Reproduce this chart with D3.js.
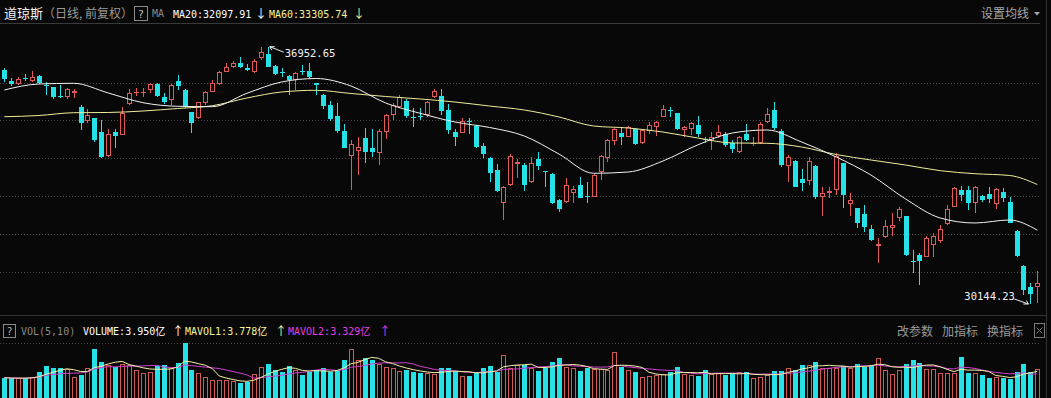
<!DOCTYPE html>
<html>
<head>
<meta charset="utf-8">
<script src="https://d3js.org/d3.v7.min.js"></script>
<style>
body { margin: 0; background: #080808; overflow: hidden; }
</style>
</head>
<body>
<script>
var width = 1051;
var height = 398;
var bg = "#080808";
var red = "#e05a58";
var cyan = "#26e2e6";
var mono = "'DejaVu Sans Mono', 'Noto Sans CJK SC', monospace";
var cjk = "'Noto Sans CJK SC', sans-serif";

//*********** Daily candles ******************************************
var opens = [36336,36052,35957,36132,36052,36177,35948,35878,35640,35613,35719,35365,34994,35057,34703,34069,34703,34616,35428,35719,
  35715,35807,35957,35613,35542,36045,35807,35217,35057,35455,35761,35965,36291,36407,36513,36389,36291,36645,36759,36442,
  36275,36177,36071,36320,36310,35984,35675,35410,35119,34722,34069,34192,34529,34281,34132,34687,35145,35365,35515,35105,
  35125,35145,35613,35648,35277,34703,34677,34990,34862,34325,34015,33690,32825,33293,33848,33822,33380,33973,33664,33584,
  32896,32852,33090,33293,32990,32984,33645,34000,34465,34677,34571,34767,34396,34730,34820,35100,35265,35190,34748,34775,
  34881,34510,34465,34589,34642,34396,34158,34634,34390,34396,34952,35277,34730,33796,33936,33452,33407,33796,32967,33090,
  33161,33867,32782,32676,32525,32129,31687,31925,32147,32412,32473,31290,31441,31396,31705,31811,32253,32719,33161,33161,
  32809,33002,33055,32790,33116,32852,32084,31150,30602,30585];
var highs = [36381,36116,36142,36230,36317,36196,36011,35894,35939,35852,35825,35410,35296,35075,35013,34767,34780,35365,35825,35852,
  35852,36000,35984,35719,35957,36204,35825,35233,35497,35788,36071,36317,36513,36582,36672,36495,36619,36937,36952.65,36469,
  36381,36204,36291,36468,36513,36000,35693,35515,35471,34899,34484,34571,34809,34767,34767,35172,35455,35675,35561,35322,
  35322,35524,35825,35825,35428,34780,35075,35057,34881,34396,34042,33848,33266,34105,33973,33866,34042,34174,33664,33602,
  32914,33470,33266,33513,33380,33584,34087,34502,34794,34820,34854,34794,34767,34968,34994,35410,35365,35206,34854,34968,
  35119,34571,34703,34881,34703,34484,34589,34899,34571,34968,35322,35481,34767,34087,33954,33708,34042,33822,33249,33249,
  34132,33883,33073,32692,32764,32235,31883,32367,32544,32703,32481,31573,31485,31943,32031,32235,32764,33232,33266,33266,
  33266,33028,33232,33206,33206,32967,32102,31176,30708,31025];
var lows = [36027,35920,35939,36052,36027,35957,35675,35569,35603,35561,35587,34748,34926,34439,34000,34042,34281,34610,35410,35648,
  35629,35719,35629,35436,35410,35807,35322,34677,35039,35410,35746,35939,36275,36381,36381,36310,36248,36600,36407,36204,
  36142,35675,35807,36204,36090,35675,35296,34986,34677,34264,33161,33557,33883,34026,33822,34502,35013,35322,35057,34820,
  35013,35100,35587,35145,34634,34325,34661,34642,34264,34000,33380,33116,32367,33276,33470,33142,33354,33690,33248,32790,
  32587,32809,32825,32940,32825,32967,33425,33910,34351,34351,34555,34351,34378,34642,34589,35084,35100,34748,34571,34616,
  34571,34412,34219,34529,34306,34132,34148,34457,34325,34378,34926,34748,33777,33380,33232,33142,33293,32914,32473,32941,
  33028,32692,32473,32147,32057,31820,31237,31898,31943,32340,31423,30972,30646,31379,31396,31767,32235,32703,32878,32631,
  32544,32852,32825,32650,32852,32280,31396,30382,30144.23,30179];
var closes = [36090,35957,36090,36116,36142,35984,35931,35613,35625,35825,35788,34926,35145,34484,34042,34634,34596,35206,35719,35761,
  35765,35965,35648,35497,35939,35920,35365,34941,35481,35761,35984,36291,36407,36513,36424,36344,36582,36804,36424,36230,
  36260,36071,36264,36305,36142,35931,35383,35031,34730,34281,34370,34306,34174,34174,34722,35145,35410,35629,35119,35090,
  35110,35481,35780,35251,34748,34571,34986,34975,34306,34105,33618,33134,33249,34060,33893,33293,33883,33796,33650,32809,
  32650,33293,33178,32957,32975,33557,34060,34484,34767,34571,34820,34378,34748,34881,34952,35304,35250,34767,34820,34926,
  34642,34495,34571,34703,34351,34238,34555,34484,34405,34899,35172,34793,33822,34042,33248,33338,33928,32967,33073,33134,
  34060,33028,32896,32280,32190,31838,31732,32208,32235,32650,31441,31275,31290,31899,31943,32129,32650,33206,33028,32825,
  33249,32896,32915,33178,32941,32296,31414,30515,30401,30692];
// volume, 亿
var volumes = [3.51,3.48,3.48,3.48,3.57,3.79,4.12,4.00,4.00,3.97,3.57,3.65,4.00,5.01,4.32,4.18,4.09,4.21,4.18,3.92,
  3.74,3.79,4.12,4.18,4.00,4.26,5.31,3.92,3.74,3.57,3.39,3.39,3.39,3.34,3.22,3.27,3.69,4.09,4.21,3.92,
  3.83,4.12,3.92,3.65,3.79,3.92,4.04,3.83,3.86,4.44,5.01,4.44,4.52,4.44,4.21,4.09,4.00,3.86,3.92,3.79,
  3.74,3.74,3.69,4.00,4.00,3.86,3.62,3.62,3.74,4.00,4.12,3.83,4.70,4.04,4.18,4.18,4.00,3.86,4.00,4.35,
  4.56,4.09,4.00,3.86,4.00,3.97,3.97,3.92,4.87,4.09,3.92,3.79,3.57,3.60,3.65,3.69,3.79,4.09,3.69,3.65,
  3.62,3.92,3.69,3.74,3.65,3.69,3.79,3.83,3.48,3.57,3.65,3.86,3.86,4.00,3.92,4.18,4.18,4.35,4.04,4.04,
  4.04,4.14,4.04,4.21,4.09,4.18,4.56,3.92,3.69,3.92,4.21,4.44,4.30,3.97,3.97,3.74,3.74,3.74,4.58,3.74,
  3.74,3.65,3.48,3.53,3.51,3.43,3.83,4.23,3.79,3.95];

//*********** Moving averages (every 5th day) **************************************
var maDays = [0,5,10,15,20,25,30,35,40,45,50,55,60,65,70,75,80,85,90,95,100,105,110,115,120,125,130,135,140,145,149];
var ma20 = [35807,35966,35984,35728,35471,35376,35365,35720,36019,36111,35913,35463,35190,34960,34815,34590,34113,33603,33637,33928,
  34352,34669,34749,34431,34034,33558,32923,32420,32288,32367,32097.91];
var ma60 = [35100,35132,35206,35212,35251,35317,35391,35595,35754,35799,35714,35635,35569,35489,35383,35278,35093,34854,34801,34695,
  34537,34405,34397,34299,34100,33955,33822,33672,33592,33545,33305.74];

var priceTicks = [31000, 32000, 33000, 34000, 35000, 36000];
var highMark = 36952.65, lowMark = 30144.23;

var svg = d3.select("body").append("svg")
    .attr("width", width)
    .attr("height", height)
    .style("display", "block")
    .style("background", bg);

var x = d3.scaleLinear().domain([0, opens.length - 1]).range([4.3, 1037.3]);
var y = d3.scaleLinear().domain([lowMark, highMark]).range([304, 46.7]);
var yVol = d3.scaleLinear().domain([0, 5.5]).range([445, 339.6]);

//*********************** Frame and grid ********************
svg.append("line")
    .attr("x1", 0).attr("x2", 1040).attr("y1", 23.5).attr("y2", 23.5)
    .attr("stroke", "#3a3a3a");
svg.append("line")
    .attr("x1", 1046.5).attr("x2", 1046.5).attr("y1", 0).attr("y2", height)
    .attr("stroke", "#333");
svg.append("line")
    .attr("x1", 0).attr("x2", 1046).attr("y1", 315.5).attr("y2", 315.5)
    .attr("stroke", "#333");

svg.append("g").selectAll("line").data(priceTicks).enter().append("line")
    .attr("x1", 0).attr("x2", 1040)
    .attr("y1", function(d){ return Math.round(y(d)) + 0.5; })
    .attr("y2", function(d){ return Math.round(y(d)) + 0.5; })
    .attr("stroke", "#4a4a4a")
    .attr("stroke-dasharray", "1,2");
svg.append("line")
    .attr("x1", 0).attr("x2", 1040).attr("y1", 343.5).attr("y2", 343.5)
    .attr("stroke", "#4a4a4a")
    .attr("stroke-dasharray", "1,2");

//*********************** Header texts ********************
function txt(px, py, s, fill, size, family){
    return svg.append("text")
        .attr("x", px).attr("y", py)
        .attr("fill", fill)
        .style("font-size", size + "px")
        .style("font-family", family)
        .text(s);
}
txt(4, 18, "道琼斯", "#f2f2f2", 13, cjk);
txt(43, 18, "（日线, 前复权）", "#9a9a9a", 12, cjk);
svg.append("rect").attr("x", 134.5).attr("y", 6.5).attr("width", 13).attr("height", 14)
    .attr("fill", "none").attr("stroke", "#8a8a8a");
txt(137.5, 17.5, "?", "#bbb", 11, mono);
txt(152, 17, "MA", "#8a8a8a", 10, mono);
txt(173, 17.5, "MA20:32097.91", "#ffffff", 10, mono);
txt(255, 18, "↓", "#ffffff", 12, cjk);
txt(269, 17.5, "MA60:33305.74", "#f4f49a", 10, mono);
txt(353, 18, "↓", "#f4f49a", 12, cjk);
txt(981, 18, "设置均线", "#a8a8a8", 12, cjk);
svg.append("path").attr("d", "M1034,12 L1040,12 L1037,15.5 Z").attr("fill", "#a8a8a8");

// volume header
svg.append("rect").attr("x", 3.5).attr("y", 324.5).attr("width", 12).attr("height", 13)
    .attr("fill", "none").attr("stroke", "#8a8a8a");
txt(6.5, 335, "?", "#bbb", 10, mono);
txt(21, 335, "VOL(5,10)", "#8a8a8a", 10, mono);
txt(83, 335, "VOLUME:3.950亿", "#ffffff", 10, mono);
txt(172, 336, "↑", "#ffffff", 12, cjk);
txt(185, 335, "MAVOL1:3.778亿", "#f4f49a", 10, mono);
txt(275, 336, "↑", "#f4f49a", 12, cjk);
txt(288, 335, "MAVOL2:3.329亿", "#e040e0", 10, mono);
txt(379, 336, "↑", "#e040e0", 12, cjk);
txt(897, 336, "改参数", "#9a9a9a", 12, cjk);
txt(942, 336, "加指标", "#9a9a9a", 12, cjk);
txt(987, 336, "换指标", "#9a9a9a", 12, cjk);
svg.append("rect").attr("x", 1034.5).attr("y", 323.5).attr("width", 10).attr("height", 14)
    .attr("fill", "none").attr("stroke", "#7a7a7a");
svg.append("path").attr("d", "M1036.5,327.5 L1042.5,333.5 M1042.5,327.5 L1036.5,333.5")
    .attr("stroke", "#7a7a7a");

//*********************** Volume bars ********************
var idx = d3.range(opens.length);
svg.append("g").selectAll("rect").data(idx).enter().append("rect")
    .attr("x", function(i){ return closes[i] >= opens[i] ? Math.round(x(i)) - 1.5 : Math.round(x(i)) - 2; })
    .attr("y", function(i){ var t = Math.round(yVol(volumes[i])); return closes[i] >= opens[i] ? t + 0.5 : t; })
    .attr("width", function(i){ return closes[i] >= opens[i] ? 4 : 5; })
    .attr("height", function(i){ return 445 - Math.round(yVol(volumes[i])); })
    .attr("fill", function(i){ return closes[i] >= opens[i] ? bg : cyan; })
    .attr("stroke", function(i){ return closes[i] >= opens[i] ? "#cf5a56" : "none"; });

function movingAvg(arr, n){
    return arr.map(function(v, i){
        return d3.mean(arr.slice(Math.max(0, i - n + 1), i + 1));
    });
}
var volLine = d3.line()
    .x(function(d, i){ return x(i); })
    .y(function(d){ return yVol(d); });
svg.append("path").datum(movingAvg(volumes, 10))
    .attr("d", volLine).attr("fill", "none").attr("stroke", "#d040d0");
svg.append("path").datum(movingAvg(volumes, 5))
    .attr("d", volLine).attr("fill", "none").attr("stroke", "#f4f0a8");

//*********************** Candles ********************
var candles = svg.append("g").selectAll("g").data(idx).enter().append("g");
candles.each(function(i){
    var g = d3.select(this);
    var up = closes[i] >= opens[i];
    var cx = Math.round(x(i));
    var top = Math.round(y(Math.max(opens[i], closes[i])));
    var bot = Math.round(y(Math.min(opens[i], closes[i])));
    if (bot - top < 1) bot = top + 1;
    var hi = Math.round(y(highs[i]));
    var lo = Math.round(y(lows[i]));
    var col = up ? red : cyan;
    if (up && bot - top > 2){
        g.append("line").attr("x1", cx + 0.5).attr("x2", cx + 0.5).attr("y1", hi).attr("y2", top)
            .attr("stroke", col);
        g.append("line").attr("x1", cx + 0.5).attr("x2", cx + 0.5).attr("y1", bot).attr("y2", lo)
            .attr("stroke", col);
        g.append("rect").attr("x", cx - 1.5).attr("y", top + 0.5)
            .attr("width", 4).attr("height", bot - top - 1)
            .attr("fill", bg).attr("stroke", col);
    } else {
        g.append("line").attr("x1", cx + 0.5).attr("x2", cx + 0.5).attr("y1", hi).attr("y2", lo)
            .attr("stroke", col);
        g.append("rect").attr("x", cx - 2).attr("y", top)
            .attr("width", 5).attr("height", bot - top)
            .attr("fill", col);
    }
});

//*********************** Moving average lines ********************
var maLine = d3.line()
    .x(function(d, k){ return x(maDays[k]); })
    .y(function(d){ return y(d); })
    .curve(d3.curveMonotoneX);
svg.append("path").datum(ma60)
    .attr("d", maLine).attr("fill", "none").attr("stroke", "#ecec9c");
svg.append("path").datum(ma20)
    .attr("d", maLine).attr("fill", "none").attr("stroke", "#f2f2f2");

//*********************** High / low marks ********************
var iHigh = highs.indexOf(highMark), iLow = lows.indexOf(lowMark);
var hx = x(iHigh) + 2, hy = y(highMark);
svg.append("line").attr("x1", hx).attr("y1", hy).attr("x2", hx + 14).attr("y2", hy + 5.5)
    .attr("stroke", "#eee");
svg.append("path").attr("d", "M" + hx + "," + hy + " l5,0 M" + hx + "," + hy + " l2,3.5")
    .attr("stroke", "#eee").attr("fill", "none");
txt(hx + 15, hy + 10, "36952.65", "#f2f2f2", 10.5, mono);

var lx = x(iLow) - 2, ly = y(lowMark);
svg.append("line").attr("x1", lx - 14).attr("y1", ly - 5).attr("x2", lx).attr("y2", ly)
    .attr("stroke", "#eee");
svg.append("path").attr("d", "M" + lx + "," + ly + " l-5,0 M" + lx + "," + ly + " l-2,-3.5")
    .attr("stroke", "#eee").attr("fill", "none");
txt(lx - 64, ly - 4, "30144.23", "#f2f2f2", 10.5, mono);
</script>
</body>
</html>
